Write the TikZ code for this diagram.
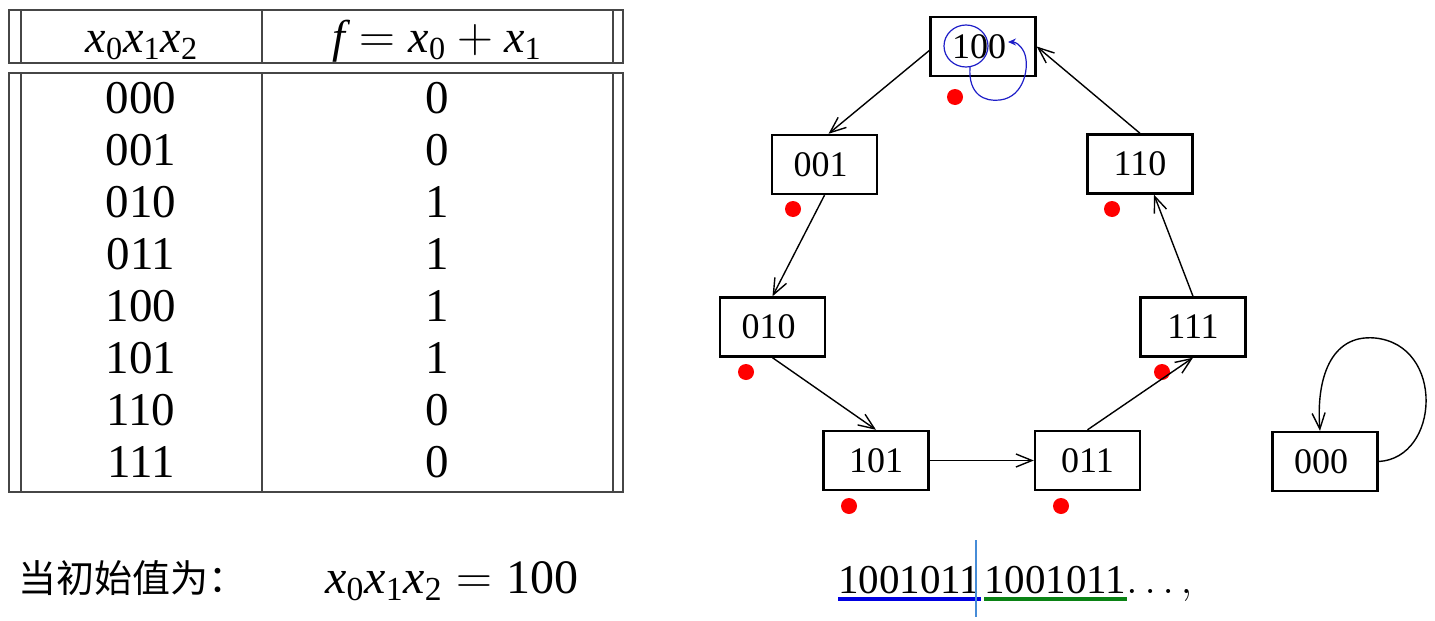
\documentclass[tikz,border=0pt]{standalone}
\usepackage{fontspec}
\setmainfont{Liberation Serif}
\newfontfamily\cjk{Noto Sans CJK SC}
\usetikzlibrary{arrows.meta}
\definecolor{tgray}{RGB}{70,70,70}
\definecolor{scrib}{RGB}{30,30,200}
\definecolor{ublue}{RGB}{0,0,225}
\definecolor{ugreen}{RGB}{10,130,20}
\definecolor{vline}{RGB}{70,140,215}
\newcommand{\vx}[1]{\mathit{x}_{\mathrm{#1}}}
\begin{document}
\begin{tikzpicture}[x=0.5pt,y=-0.5pt,
  tline/.style={draw=tgray, line width=1pt},
  state/.style={draw=black, line width=1.2pt, minimum width=52.5pt, minimum height=29.5pt, inner sep=0pt, font=\fontsize{18}{20}\selectfont},
  conn/.style={draw=black, line width=0.7pt, -{Straight Barb[length=8pt,width=6.5pt,line width=0.7pt]}},
  reddot/.style={fill=red},
  cell/.style={inner sep=0pt, font=\fontsize{23.5}{28}\selectfont},
  head/.style={inner sep=0pt, anchor=base, font=\fontsize{23}{26}\selectfont},
  seq/.style={inner sep=0pt, anchor=base west, font=\fontsize{20.5}{24}\selectfont},
]
\useasboundingbox (0,0) rectangle (1435,621);
% ---- table ----
\draw[tline] (9,10) rectangle (623,63);
\draw[tline] (21,10) -- (21,63) (613,10) -- (613,63) (262,10) -- (262,63);
\draw[tline] (9,73) rectangle (623,492);
\draw[tline] (21,73) -- (21,492) (613,73) -- (613,492) (262,73) -- (262,492);
\node[head] (h1) at (142,52) {$\vx0\vx1\vx2$};
\node[head] (h2) at (437,52) {$\mathit{f} = \vx0 + \vx1$};
\foreach \a/\b [count=\i] in {000/0,001/0,010/1,011/1,100/1,101/1,110/0,111/0} {
  \pgfmathsetmacro{\yy}{98+52*(\i-1)}
  \node[cell] (l\i) at (141,\yy) {\a};
  \node[cell] (r\i) at (437,\yy) {\b};
}
% ---- bottom left ----
\node[inner sep=0pt, anchor=west, font=\fontsize{19}{22}\selectfont\cjk] (lab) at (18,578) {当初始值为：};
\node[inner sep=0pt, anchor=base west, font=\fontsize{24}{28}\selectfont] (eq) at (325,593) {$\vx0\vx1\vx2 = \mathrm{100}$};
% ---- state graph ----
\node[state] (n100) at (983,46.5) {100\hspace*{4pt}};
\node[state] (n001) at (824.5,164.5) {001\hspace*{4pt}};
\node[state] (n110) at (1140,164) {110};
\node[state] (n010) at (772.5,327) {010\hspace*{4pt}};
\node[state] (n111) at (1193,327) {111};
\node[state] (n101) at (876,460.5) {101};
\node[state] (n011) at (1087.5,460.5) {011};
\node[state] (n000) at (1325,461.5) {000\hspace*{4pt}};
\foreach \p in {(955,97),(793,209),(746,372),(1112,209),(1162,372),(849,506),(1061,506)}
  \fill[reddot] \p circle[radius=4pt];
\draw[conn] ([yshift=-2pt]n100.west) -- ([xshift=2pt]n001.north);
\draw[conn] (n001.south) -- (n010.north);
\draw[conn] (n010.south) -- (n101.north);
\draw[conn] (n101.east) -- (n011.west);
\draw[conn] (n011.north) -- (n111.south);
\draw[conn] (n111.north) -- ([xshift=7pt]n110.south);
\draw[conn] (n110.north) -- (n100.east);
\draw[conn] (n000.east) .. controls (1440,458) and (1445,345) .. (1375,338)
  .. controls (1330,334) and (1316,380) .. ([xshift=-2.5pt]n000.north);
% blue scribble
\draw[scrib, line width=0.6pt] (966,46) ellipse [x radius=11pt, y radius=10.5pt];
\draw[scrib, line width=0.6pt, -{Stealth[length=4pt,width=3.5pt]}] (970,67)
  .. controls (968,95) and (985,102) .. (1000,100)
  .. controls (1025,97) and (1030,65) .. (1024,52)
  .. controls (1020,44) and (1015,42) .. (1008,42);
% ---- sequence ----
\node[seq] (s1) at (838,593) {1001011};
\node[seq] (s2) at (984,593) {1001011};
\node[seq] (s3) at (1126,593) {$\ldots,$};
\draw[ublue, line width=2pt] ([yshift=-2.5pt]s1.south west) -- ([yshift=-2.5pt]s1.south east);
\draw[ugreen, line width=2pt] ([yshift=-2.5pt]s2.south west) -- ([yshift=-2.5pt]s2.south east);
\coordinate (vt) at (976,540);
\coordinate (vb) at (976,617);
\draw[vline, line width=0.7pt] (vt) -- (vb);
\end{tikzpicture}
\end{document}
